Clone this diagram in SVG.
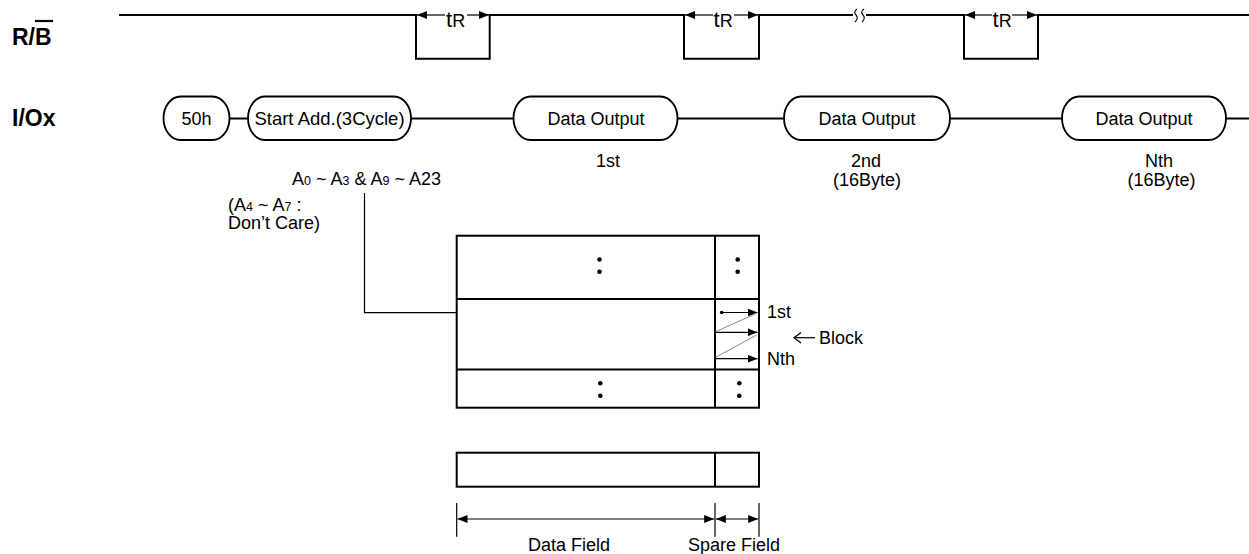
<svg xmlns="http://www.w3.org/2000/svg" width="1249" height="554" viewBox="0 0 1249 554">
<style>
text{font-family:"Liberation Sans",Arial,sans-serif;fill:#000}
.lbl{font-weight:bold;font-size:23px}
.t18{font-size:18px}
.sub{font-size:12.5px}
.ln{stroke:#000;stroke-width:2;fill:none}
.thin{stroke:#000;stroke-width:1.2;fill:none}
.node{stroke:#000;stroke-width:1.8;fill:#fff}
.box{stroke:#000;stroke-width:2;fill:#fff}
.dot{fill:#000}
</style>
<defs>
<marker id="ah" viewBox="0 0 10 8" refX="10" refY="4" markerWidth="10" markerHeight="8" markerUnits="userSpaceOnUse" orient="auto-start-reverse">
<path d="M0,0 L10,4 L0,8 z" fill="#000"/>
</marker>
</defs>

<!-- signal labels -->
<g id="label-rb">
<text class="lbl" x="12" y="45">R/B</text>
<line x1="35" y1="21" x2="53" y2="21" stroke="#000" stroke-width="2.2"/>
</g>
<g id="label-io">
<text class="lbl" x="12" y="126">I/Ox</text>
</g>

<!-- R/B waveform -->
<g id="rb-wave">
<polyline class="ln" points="119,15 416,15 416,58.7 489.7,58.7 489.7,15 684,15 684,58.7 759,58.7 759,15 964,15 964,58.7 1038,58.7 1038,15 1249,15"/>
<line x1="853" y1="15" x2="866" y2="15" stroke="#fff" stroke-width="4"/>
<path d="M857,9 q-4,3 -1,6 q3,3 -1,7 M864,9 q-4,3 -1,6 q3,3 -1,7" stroke="#000" stroke-width="1.1" fill="none"/>
</g>

<g id="tr1">
<line x1="445" y1="15" x2="417" y2="15" class="thin" marker-end="url(#ah)"/>
<line x1="467" y1="15" x2="489" y2="15" class="thin" marker-end="url(#ah)"/>
<text x="446" y="26.5" font-size="22">t<tspan font-size="18">R</tspan></text>
</g>
<g id="tr2">
<line x1="713" y1="15" x2="685" y2="15" class="thin" marker-end="url(#ah)"/>
<line x1="734" y1="15" x2="758" y2="15" class="thin" marker-end="url(#ah)"/>
<text x="713.5" y="26.5" font-size="22">t<tspan font-size="18">R</tspan></text>
</g>
<g id="tr3">
<line x1="992" y1="15" x2="965" y2="15" class="thin" marker-end="url(#ah)"/>
<line x1="1012" y1="15" x2="1037" y2="15" class="thin" marker-end="url(#ah)"/>
<text x="992.5" y="26.5" font-size="22">t<tspan font-size="18">R</tspan></text>
</g>

<!-- I/O connectors -->
<g id="connectors">
<line x1="229.5" y1="118.5" x2="248" y2="118.5" class="ln"/>
<line x1="411" y1="118.5" x2="513.5" y2="118.5" class="ln"/>
<line x1="677.5" y1="118.5" x2="784" y2="118.5" class="ln"/>
<line x1="950" y1="118.5" x2="1062" y2="118.5" class="ln"/>
<line x1="1226" y1="118.5" x2="1249" y2="118.5" class="ln"/>
<polyline class="thin" points="364.5,193 364.5,312.7 706,312.7" marker-end="url(#ah)"/>
</g>

<!-- I/O nodes -->
<g id="n-50h">
<rect class="node" x="163.5" y="96.5" width="66" height="43.5" rx="17" ry="21.75"/>
<text class="t18" x="196.5" y="125" text-anchor="middle">50h</text>
</g>
<g id="n-start">
<rect class="node" x="248" y="96.5" width="163" height="43.5" rx="17" ry="21.75"/>
<text x="329.5" y="125" text-anchor="middle" font-size="18.5">Start Add.(3Cycle)</text>
</g>
<g id="n-data1">
<rect class="node" x="513.5" y="96.5" width="164" height="43.5" rx="17" ry="21.75"/>
<text class="t18" x="596" y="125" text-anchor="middle">Data Output</text>
<text class="t18" x="608" y="166.5" text-anchor="middle">1st</text>
</g>
<g id="n-data2">
<rect class="node" x="784" y="96.5" width="166" height="43.5" rx="17" ry="21.75"/>
<text class="t18" x="867" y="125" text-anchor="middle">Data Output</text>
<text class="t18" x="866" y="166.5" text-anchor="middle">2nd</text>
<text class="t18" x="867" y="185.5" text-anchor="middle">(16Byte)</text>
</g>
<g id="n-data3">
<rect class="node" x="1062" y="96.5" width="164" height="43.5" rx="17" ry="21.75"/>
<text class="t18" x="1144" y="125" text-anchor="middle">Data Output</text>
<text class="t18" x="1159" y="166.5" text-anchor="middle">Nth</text>
<text class="t18" x="1161.5" y="185.5" text-anchor="middle">(16Byte)</text>
</g>

<!-- address labels -->
<g id="addr-label">
<text class="t18" x="292" y="185">A<tspan class="sub">0</tspan> ~ A<tspan class="sub">3</tspan> &amp; A<tspan class="sub">9</tspan> ~ A23</text>
<text class="t18" x="228" y="211">(A<tspan class="sub">4</tspan> ~ A<tspan class="sub">7</tspan> :</text>
<text class="t18" x="228" y="229">Don’t Care)</text>
</g>

<!-- memory block -->
<g id="block">
<rect class="box" x="456.7" y="235.7" width="302.3" height="172"/>
<line class="ln" x1="456.7" y1="299" x2="759" y2="299"/>
<line class="ln" x1="456.7" y1="369.5" x2="759" y2="369.5"/>
<line class="ln" x1="715" y1="235.7" x2="715" y2="407.7"/>
<circle class="dot" cx="599.5" cy="259.5" r="2.3"/>
<circle class="dot" cx="599.5" cy="271.8" r="2.3"/>
<circle class="dot" cx="737.7" cy="259.5" r="2.3"/>
<circle class="dot" cx="737.7" cy="271.8" r="2.3"/>
<circle class="dot" cx="600.3" cy="383.3" r="2.3"/>
<circle class="dot" cx="600.3" cy="395.7" r="2.3"/>
<circle class="dot" cx="739.3" cy="383.3" r="2.3"/>
<circle class="dot" cx="739.3" cy="395.7" r="2.3"/>
<circle class="dot" cx="721.7" cy="312.5" r="1.8"/>
<line class="thin" x1="721.7" y1="312.5" x2="757.5" y2="312.5" marker-end="url(#ah)"/>
<line class="thin" x1="715" y1="332.3" x2="757.5" y2="332.3" marker-end="url(#ah)"/>
<line class="thin" x1="715" y1="358.7" x2="757.5" y2="358.7" marker-end="url(#ah)"/>
<line x1="715.7" y1="331.7" x2="756.7" y2="313.3" stroke="#888" stroke-width="1"/>
<line x1="715.7" y1="357.3" x2="756.7" y2="335" stroke="#888" stroke-width="1"/>
<text class="t18" x="767" y="318">1st</text>
<text class="t18" x="767" y="365">Nth</text>
<line class="thin" x1="794" y1="337.7" x2="815" y2="337.7"/>
<polyline class="thin" points="801,332.5 794,337.7 801,342.9"/>
<text class="t18" x="819" y="344">Block</text>
</g>

<!-- single page -->
<g id="page">
<rect class="box" x="456.7" y="452.7" width="302.3" height="34"/>
<line class="ln" x1="715" y1="452.7" x2="715" y2="486.7"/>
</g>

<!-- dimensions -->
<g id="dims">
<line class="thin" x1="456.7" y1="503" x2="456.7" y2="536.7"/>
<line class="thin" x1="715" y1="503" x2="715" y2="536.7"/>
<line class="thin" x1="759" y1="503" x2="759" y2="536.7"/>
<line class="thin" x1="457.5" y1="519" x2="714.2" y2="519" marker-start="url(#ah)" marker-end="url(#ah)"/>
<line class="thin" x1="715.8" y1="519" x2="758.2" y2="519" marker-start="url(#ah)" marker-end="url(#ah)"/>
<text class="t18" x="569" y="551" text-anchor="middle">Data Field</text>
<text class="t18" x="734" y="551" text-anchor="middle">Spare Field</text>
</g>
</svg>
